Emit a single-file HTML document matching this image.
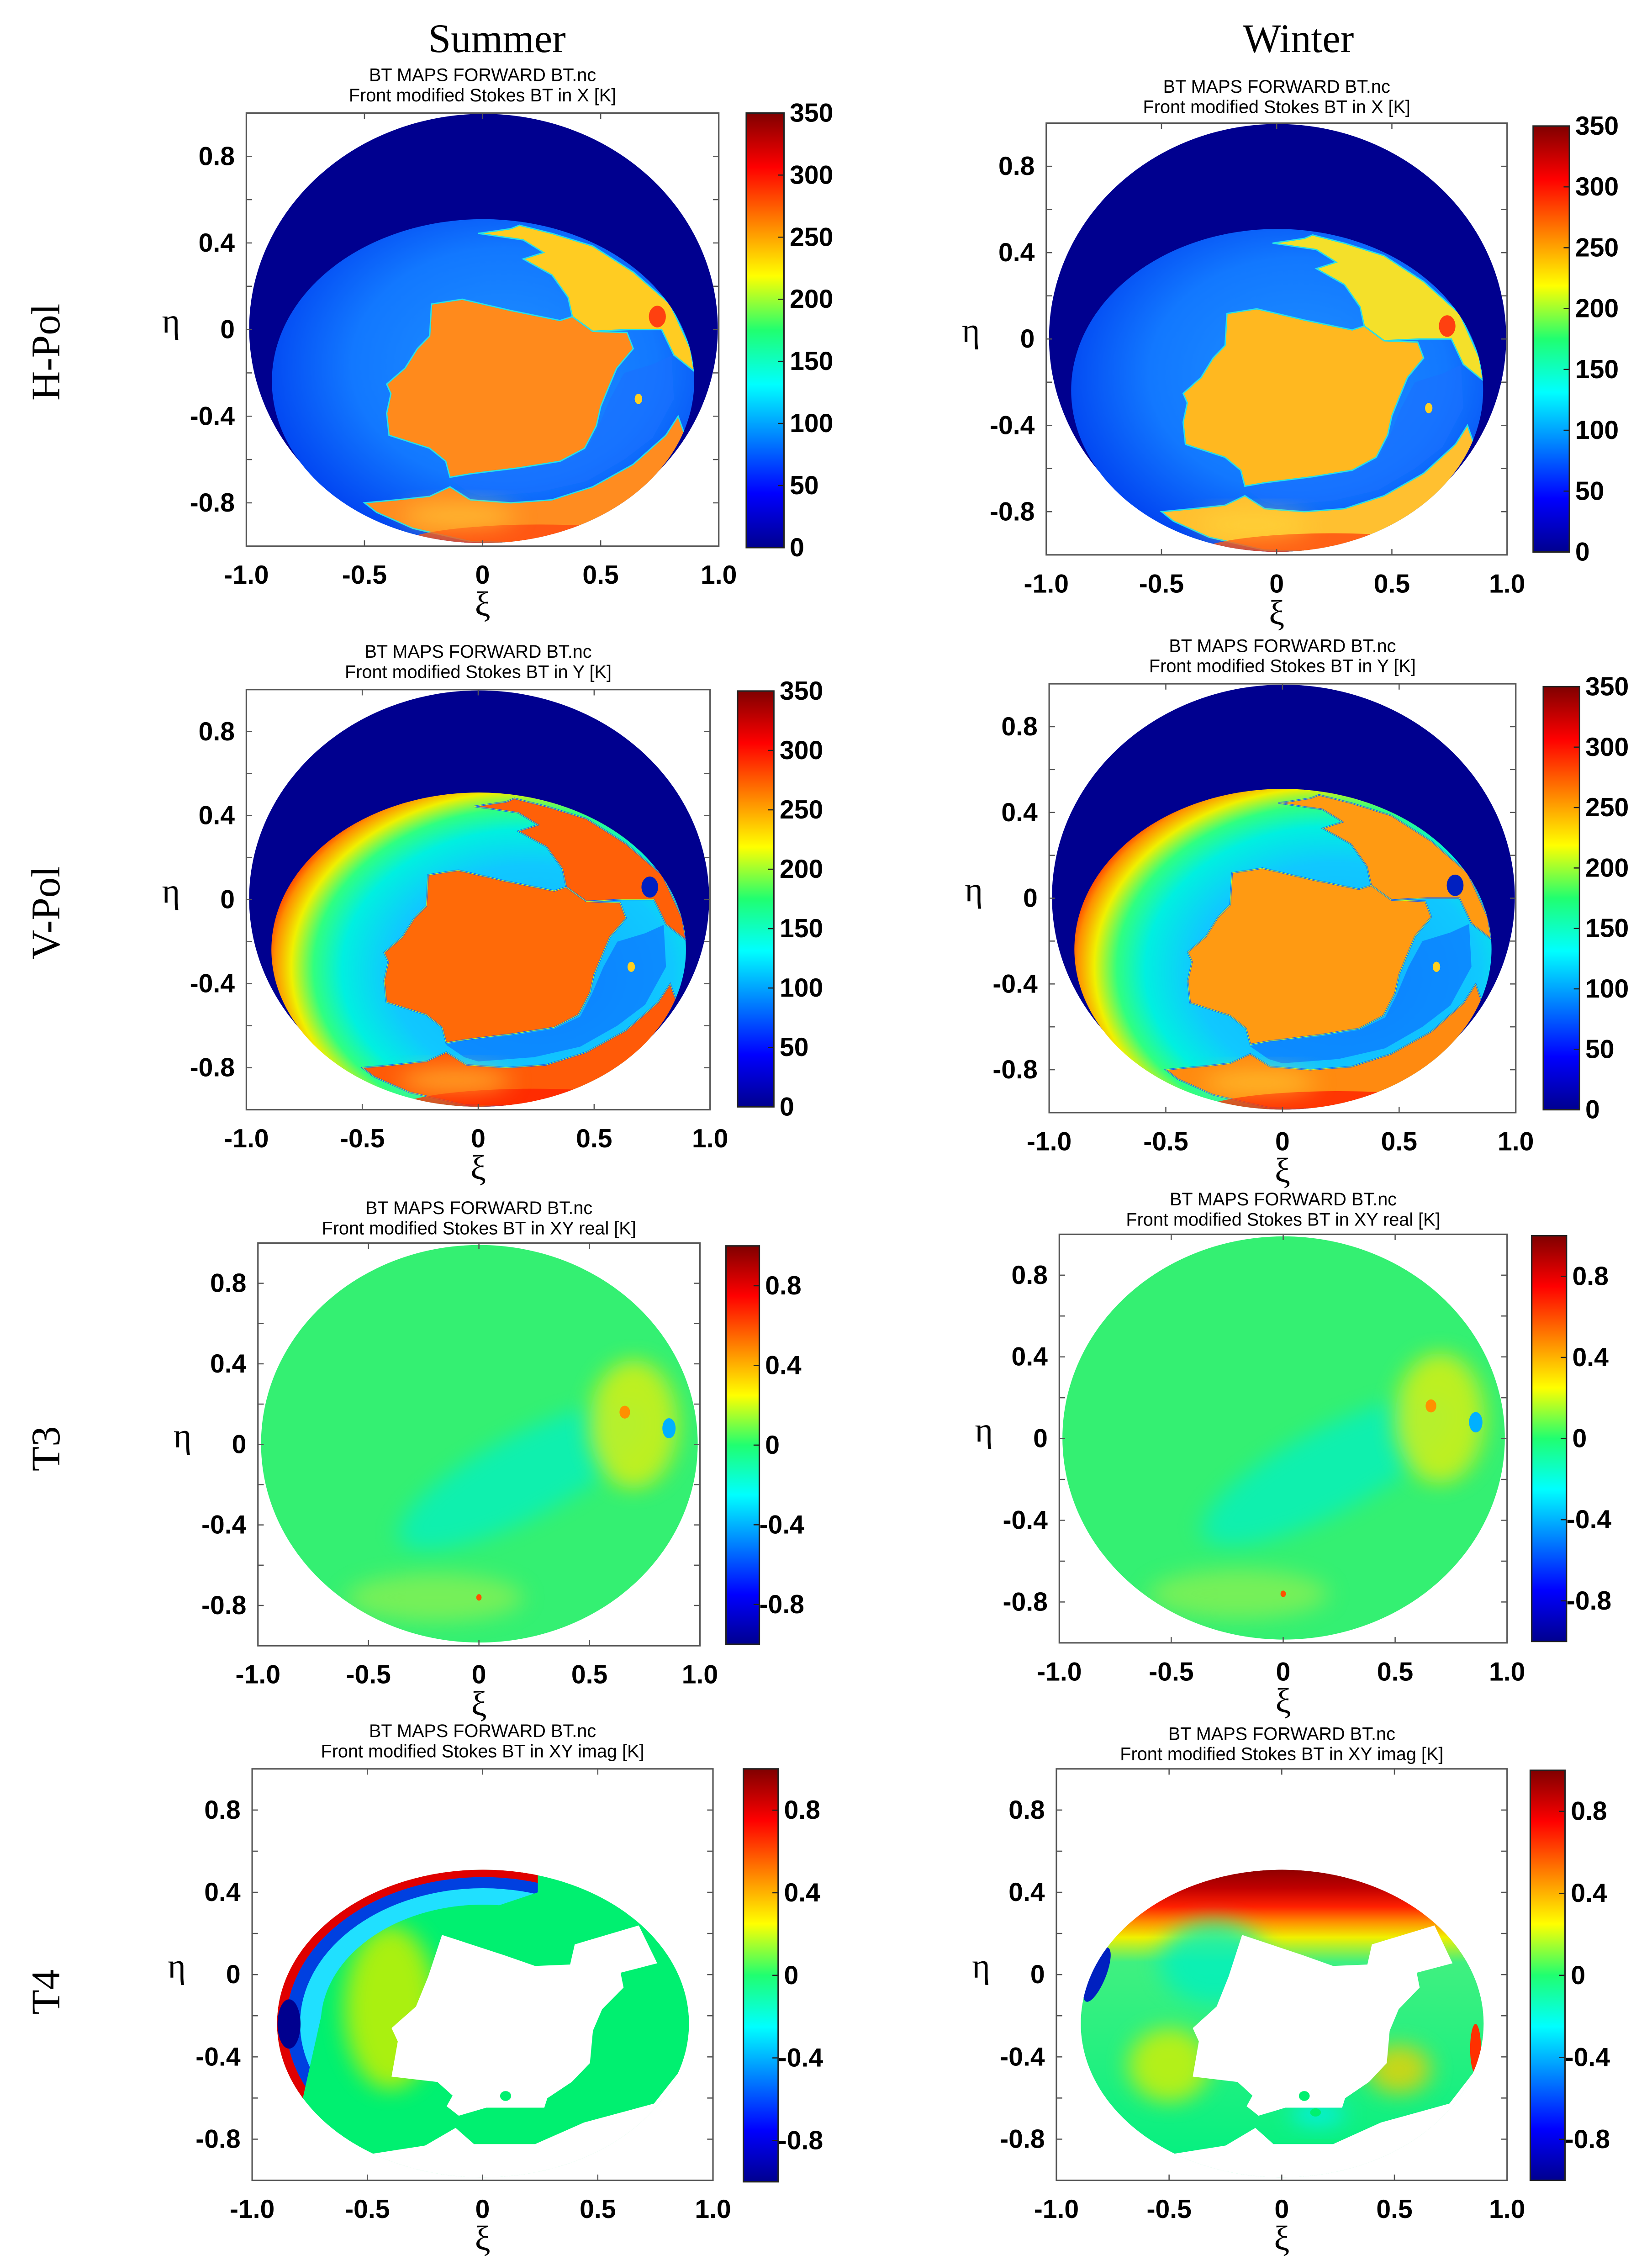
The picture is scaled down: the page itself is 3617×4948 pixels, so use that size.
<!DOCTYPE html>
<html><head><meta charset="utf-8">
<style>
html,body{margin:0;padding:0;background:#fff;}
svg{display:block;}
.tk{font-family:"Liberation Sans",Arial,sans-serif;font-weight:bold;font-size:18px;fill:#000;}
.ttl{font-family:"Liberation Sans",Arial,sans-serif;font-size:12.5px;fill:#000;}
.hdr{font-family:"Liberation Serif","DejaVu Serif",serif;font-size:28px;fill:#000;}
.gr{font-family:"Liberation Serif","DejaVu Serif",serif;font-size:24px;fill:#000;}
</style></head>
<body>
<svg id="fig" xmlns="http://www.w3.org/2000/svg" width="3617" height="4948" viewBox="0 0 1140 1560" preserveAspectRatio="none">
<defs>
<linearGradient id="jet" x1="0" y1="1" x2="0" y2="0">
<stop offset="0" stop-color="#00008f"/><stop offset="0.125" stop-color="#0000ff"/>
<stop offset="0.375" stop-color="#00ffff"/><stop offset="0.5" stop-color="#20ff70"/>
<stop offset="0.625" stop-color="#ffff00"/><stop offset="0.875" stop-color="#ff0000"/>
<stop offset="1" stop-color="#800000"/></linearGradient>
<radialGradient id="hsea" cx="0.55" cy="0.45" r="0.6">
<stop offset="0" stop-color="#1e90ff"/><stop offset="0.6" stop-color="#1278ff"/><stop offset="1" stop-color="#0040f0"/></radialGradient>
<radialGradient id="vsea" cx="0.6" cy="0.55" r="0.62" fx="0.66" fy="0.6">
<stop offset="0" stop-color="#10b0ff"/><stop offset="0.55" stop-color="#10c8ff"/>
<stop offset="0.72" stop-color="#00f0e0"/><stop offset="0.82" stop-color="#30ff80"/>
<stop offset="0.9" stop-color="#f0f000"/><stop offset="0.96" stop-color="#ff9000"/><stop offset="1" stop-color="#ff3000"/></radialGradient>
<linearGradient id="t4w" x1="0" y1="0" x2="0" y2="1">
<stop offset="0" stop-color="#900000"/><stop offset="0.06" stop-color="#c00000"/>
<stop offset="0.12" stop-color="#ff2000"/><stop offset="0.17" stop-color="#ff9000"/>
<stop offset="0.22" stop-color="#f0f000"/><stop offset="0.3" stop-color="#40f080"/><stop offset="1" stop-color="#00f080"/></linearGradient>
<filter id="bl" x="-50%" y="-50%" width="200%" height="200%"><feGaussianBlur stdDeviation="0.025"/></filter>
</defs>
<g id="root"></g>
</svg>
<script>
// ---- data ----
var colHeaders = ["Summer", "Winter"];
var rowLabels = ["H-Pol", "V-Pol", "T3", "T4"];
var xTickVals = [-1.0, -0.5, 0, 0.5, 1.0];
var xTickLabels = ["-1.0", "-0.5", "0", "0.5", "1.0"];
var yTickVals = [0.8, 0.4, 0, -0.4, -0.8];
var yTickLabels = ["0.8", "0.4", "0", "-0.4", "-0.8"];
var btTickVals = [0, 50, 100, 150, 200, 250, 300, 350];
var btRange = [0, 350];
var stTickVals = [-0.8, -0.4, 0, 0.4, 0.8];
var stTickLabels = ["-0.8", "-0.4", "0", "0.4", "0.8"];
var stRange = [-1, 1];
var titleLine1 = "BT MAPS FORWARD BT.nc";
var titleLine2 = ["Front modified Stokes BT in X [K]", "Front modified Stokes BT in Y [K]", "Front modified Stokes BT in XY real [K]", "Front modified Stokes BT in XY imag [K]"];

var P = [
 {r:0,c:0,x:170,y:78,w:326,h:299,cb:[515,78,26,300],t:52},
 {r:0,c:1,x:722,y:85,w:318,h:298,cb:[1058,87,25,294],t:60},
 {r:1,c:0,x:170,y:476,w:320,h:290,cb:[509,477,25,287],t:450},
 {r:1,c:1,x:724,y:472,w:322,h:296,cb:[1065,474,25,292],t:446},
 {r:2,c:0,x:178,y:858,w:305,h:278,cb:[501,860,23,275],t:834},
 {r:2,c:1,x:731,y:852,w:309,h:282,cb:[1057,853,24,280],t:828},
 {r:3,c:0,x:174,y:1221,w:318,h:284,cb:[513,1221,24,285],t:1195},
 {r:3,c:1,x:729,y:1221,w:311,h:284,cb:[1056,1222,24,283],t:1197}
];

var iberia=[[.392,.441],[.457,.430],[.560,.456],[.664,.479],[.690,.470],[.733,.504],[.806,.507],[.819,.544],[.784,.589],[.767,.633],[.750,.678],[.741,.722],[.716,.774],[.664,.804],[.578,.819],[.474,.833],[.431,.841],[.422,.804],[.388,.774],[.302,.744],[.297,.693],[.306,.648],[.297,.626],[.336,.589],[.362,.544],[.388,.515]];
var france=[[.578,.259],[.647,.278],[.733,.307],[.819,.367],[.897,.441],[.940,.544],[.948,.596],[.905,.559],[.879,.5],[.810,.5],[.733,.504],[.690,.470],[.681,.426],[.647,.374],[.586,.337],[.629,.322],[.586,.293],[.491,.278],[.560,.267]];
var africa=[[.25,.9],[.319,.893],[.388,.885],[.431,.863],[.474,.893],[.560,.9],[.647,.893],[.733,.863],[.819,.811],[.888,.744],[.914,.7],[.931,.752],[.888,.841],[.819,.915],[.733,.967],[.603,.993],[.474,.989],[.353,.959],[.276,.922]];
var medit=[[.43,.845],[.47,.835],[.58,.822],[.665,.807],[.72,.778],[.745,.725],[.77,.66],[.80,.60],[.86,.58],[.90,.56],[.905,.66],[.86,.75],[.80,.80],[.72,.85],[.62,.875],[.50,.885],[.47,.875]];
var t4hole=[[-0.176,0.193],[0.095,0.094],[0.228,0.042],[0.380,0.049],[0.400,0.147],[0.678,0.239],[0.758,0.055],[0.599,0.009],[0.612,-0.063],[0.519,-0.168],[0.479,-0.273],[0.466,-0.430],[0.387,-0.522],[0.281,-0.601],[0.268,-0.647],[0.016,-0.647],[-0.103,-0.686],[-0.156,-0.640],[-0.130,-0.588],[-0.196,-0.522],[-0.395,-0.496],[-0.368,-0.325],[-0.395,-0.260],[-0.289,-0.155],[-0.236,-0.010]];
var t4bottom=[[-1,-0.87],[-0.474,-0.870],[-0.249,-0.831],[-0.117,-0.745],[-0.037,-0.824],[0.228,-0.824],[0.44,-0.719],[0.744,-0.627],[0.864,-0.457],[1,-0.457],[1,-1],[-1,-1]];

var NS="http://www.w3.org/2000/svg";
var root=document.getElementById('root');
function el(tag,attrs,parent){var e=document.createElementNS(NS,tag);for(var k in attrs)e.setAttribute(k,attrs[k]);(parent||root).appendChild(e);return e;}
function path(pts){return "M"+pts.map(function(p){return p[0]+","+p[1];}).join("L")+"Z";}
function xe(pts){return pts.map(function(p){return [(p[0]+1)/2,(1-p[1])/2];});}
function txt(s,x,y,cls,anchor,parent){var t=el('text',{x:x,y:y,'class':cls,'text-anchor':anchor||'middle'},parent);t.textContent=s;return t;}

var defs=document.querySelector('defs');
var OUT={cx:.502,cy:.4975,rx:.496,ry:.4955};
var INN={cx:.501,cy:.619,rx:.447,ry:.374};
var T3E={cx:.501,cy:.4985,rx:.494,ry:.4935};

colHeaders.forEach(function(h,i){
  var t=txt(h,[343,896][i],36,'hdr');
  
  
});
var rowY=[243,630,1000,1375];
rowLabels.forEach(function(r,i){
  var t=el('text',{x:0,y:0,'class':'hdr','text-anchor':'middle',transform:'translate(41,'+rowY[i]+') rotate(-90)'});
  t.textContent=r;
  
  
});

P.forEach(function(p,idx){
  var season=p.c===0?'summer':'winter';
  var g=el('g',{});
  
  
  var cx=p.x+p.w/2;
  var t1=txt(titleLine1,cx,p.t+4,'ttl','middle',g);
  
  
  var t2=txt(titleLine2[p.r],cx,p.t+18,'ttl','middle',g);
  
  
  var cid='clip'+idx;
  var cp=el('clipPath',{id:cid},defs);
  el('ellipse',{cx:INN.cx,cy:INN.cy,rx:INN.rx,ry:INN.ry},cp);
  var m=el('g',{transform:'translate('+p.x+','+p.y+') scale('+p.w+','+p.h+')'},g);
  
  
  var win=p.c===1;
  if(p.r<2){
    el('ellipse',{cx:OUT.cx,cy:OUT.cy,rx:OUT.rx,ry:OUT.ry,fill:'#00008f'},m);
    el('ellipse',{cx:INN.cx,cy:INN.cy,rx:INN.rx,ry:INN.ry,fill:p.r===0?'url(#hsea)':'url(#vsea)'},m);
    var ig=el('g',{'clip-path':'url(#'+cid+')'},m);
    var land, fr, af, coast;
    if(p.r===0){ land=win?'#ffb820':'#ff8a1c'; fr=win?'#f4e02a':'#ffcc22'; af=win?'#ffc030':'#ff8c20'; coast='#30e8e0';
      el('path',{d:path(medit),fill:'#1a70ff',opacity:0.6},ig);}
    else { land=win?'#ff9a12':'#ff6a08'; fr=win?'#ff9a12':'#ff6008'; af=win?'#ff8a10':'#ff5a08'; coast='#c8ff20';
      el('path',{d:path(medit),fill:'#0a5cff',opacity:0.55},ig);}
    el('path',{d:path(africa),fill:af,stroke:p.r===1?'#0a5cff':'#20d8f0','stroke-width':3,'vector-effect':'non-scaling-stroke'},ig);
    el('path',{d:path(africa),fill:'none',stroke:coast,'stroke-width':1,'vector-effect':'non-scaling-stroke'},ig);
    el('ellipse',{cx:.62,cy:1.0,rx:.3,ry:.05,fill:p.r===1?'#ff2000':'#ff4a10',opacity:0.8},ig);
    el('ellipse',{cx:.45,cy:.93,rx:.12,ry:.03,fill:'#ffe040',opacity:0.5,filter:'url(#bl)'},ig);
    el('path',{d:path(france),fill:fr,stroke:p.r===1?'#0a5cff':'#20d8f0','stroke-width':3,'vector-effect':'non-scaling-stroke'},ig);
    el('path',{d:path(france),fill:'none',stroke:coast,'stroke-width':1,'vector-effect':'non-scaling-stroke'},ig);
    el('ellipse',{cx:.87,cy:.47,rx:.018,ry:.025,fill:p.r===1?'#0020c0':'#ff4010'},ig);
    el('path',{d:path(iberia),fill:land,stroke:p.r===1?'#0a5cff':'#20d8f0','stroke-width':3,'vector-effect':'non-scaling-stroke'},ig);
    el('path',{d:path(iberia),fill:'none',stroke:coast,'stroke-width':1.2,'vector-effect':'non-scaling-stroke'},ig);
    el('ellipse',{cx:.83,cy:.66,rx:.008,ry:.012,fill:'#ffd020'},ig);
  } else if(p.r===2){
    el('ellipse',{cx:T3E.cx,cy:T3E.cy,rx:T3E.rx,ry:T3E.ry,fill:'#34f072'},m);
    var c3='c3'+idx; var cc=el('clipPath',{id:c3},defs);
    el('ellipse',{cx:T3E.cx,cy:T3E.cy,rx:T3E.rx,ry:T3E.ry},cc);
    var tg=el('g',{'clip-path':'url(#'+c3+')'},m);
    el('ellipse',{cx:.6,cy:.58,rx:.32,ry:.1,fill:'#00f0c8',opacity:0.7,transform:'rotate(-30 .6 .58)',filter:'url(#bl)'},tg);
    el('ellipse',{cx:.85,cy:.45,rx:.1,ry:.16,fill:'#e0f010',opacity:0.8,filter:'url(#bl)'},tg);
    el('ellipse',{cx:.83,cy:.42,rx:.012,ry:.016,fill:'#ff9000'},tg);
    el('ellipse',{cx:.93,cy:.46,rx:.015,ry:.025,fill:'#00b0ff'},tg);
    el('ellipse',{cx:.4,cy:.88,rx:.2,ry:.06,fill:'#b8f040',opacity:0.5,filter:'url(#bl)'},tg);
    el('ellipse',{cx:.5,cy:.88,rx:.006,ry:.008,fill:'#ff5000'},tg);
  } else {
    var tg4=el('g',{'clip-path':'url(#'+cid+')'},m);
    if(!win){
      el('ellipse',{cx:INN.cx,cy:INN.cy,rx:INN.rx,ry:INN.ry,fill:'#00f070'},tg4);
      el('ellipse',{cx:.3,cy:.58,rx:.1,ry:.2,fill:'#c8f000',opacity:0.85,filter:'url(#bl)'},tg4);
      var lc='lc'+idx; var lcp=el('clipPath',{id:lc},defs);
      el('path',{d:path([[0,0],[.62,0],[.62,.3],[.3,.42],[.15,.6],[.1,.85],[0,.85]])},lcp);
      var bg=el('g',{'clip-path':'url(#'+lc+')'},tg4);
      el('ellipse',{cx:INN.cx,cy:INN.cy,rx:INN.rx-.07,ry:INN.ry-.06,fill:'none',stroke:'#20e0ff','stroke-width':.05},bg);
      el('ellipse',{cx:INN.cx,cy:INN.cy,rx:INN.rx-.035,ry:INN.ry-.03,fill:'none',stroke:'#0040e0','stroke-width':.03},bg);
      el('ellipse',{cx:INN.cx,cy:INN.cy,rx:INN.rx-.01,ry:INN.ry-.008,fill:'none',stroke:'#e00000','stroke-width':.02},bg);
      el('ellipse',{cx:.08,cy:.62,rx:.025,ry:.06,fill:'#00008f'},tg4);
    } else {
      el('ellipse',{cx:INN.cx,cy:INN.cy,rx:INN.rx,ry:INN.ry,fill:'url(#t4w)'},tg4);
      el('ellipse',{cx:.35,cy:.47,rx:.12,ry:.1,fill:'#00f0c0',opacity:0.8,filter:'url(#bl)'},tg4);
      el('ellipse',{cx:.25,cy:.72,rx:.09,ry:.09,fill:'#d8f000',opacity:0.8,filter:'url(#bl)'},tg4);
      el('ellipse',{cx:.76,cy:.73,rx:.07,ry:.06,fill:'#f0d000',opacity:0.8,filter:'url(#bl)'},tg4);
      el('ellipse',{cx:.58,cy:.84,rx:.06,ry:.03,fill:'#00f0f0',opacity:0.8,filter:'url(#bl)'},tg4);
      el('ellipse',{cx:.09,cy:.5,rx:.02,ry:.07,fill:'#0020c0',transform:'rotate(20 .09 .5)'},tg4);
      el('ellipse',{cx:.93,cy:.68,rx:.012,ry:.06,fill:'#ff3000'},tg4);
    }
    el('path',{d:path(xe(t4hole)),fill:'#fff'},tg4);
    el('path',{d:path(xe(t4bottom)),fill:'#fff'},tg4);
    el('ellipse',{cx:.55,cy:.795,rx:.012,ry:.012,fill:'#00f070'},tg4);
    el('ellipse',{cx:.575,cy:.835,rx:.012,ry:.01,fill:'#00f070'},tg4);
  }
  var fr2=el('rect',{x:p.x,y:p.y,width:p.w,height:p.h,fill:'none',stroke:'#555','stroke-width':1},g);
  
  
  function X(v){return p.x+(v+1)/2*p.w;}
  function Y(v){return p.y+(1-v)/2*p.h;}
  for(var k=-4;k<=4;k++){var yy=Y(k*0.2);
    el('line',{x1:p.x,y1:yy,x2:p.x+4,y2:yy,stroke:'#555','stroke-width':.8},g);
    el('line',{x1:p.x+p.w,y1:yy,x2:p.x+p.w-4,y2:yy,stroke:'#555','stroke-width':.8},g);}
  xTickVals.forEach(function(v,i){
    el('line',{x1:X(v),y1:p.y+p.h,x2:X(v),y2:p.y+p.h-4,stroke:'#555','stroke-width':.8},g);
    el('line',{x1:X(v),y1:p.y,x2:X(v),y2:p.y+4,stroke:'#555','stroke-width':.8},g);
    var t=txt(xTickLabels[i],X(v),p.y+p.h+26,'tk','middle',g);
    
    
  });
  yTickVals.forEach(function(v,i){
    var t=txt(yTickLabels[i],p.x-8,Y(v)+6,'tk','end',g);
    
    
  });
  var xl=txt('ξ',X(0),p.y+p.h+48,'gr','middle',g);
  
  
  var yl=txt('η',p.x-52,Y(0)+2,'gr','middle',g);
  
  
  var cb=p.cb;
  var cbr=el('rect',{x:cb[0],y:cb[1],width:cb[2],height:cb[3],fill:'url(#jet)',stroke:'#222','stroke-width':1},g);
  
  
  var vals,labs,rng;
  if(p.r<2){vals=btTickVals;labs=btTickVals.map(String);rng=btRange;}else{vals=stTickVals;labs=stTickLabels;rng=stRange;}
  vals.forEach(function(v,i){
    var yy=cb[1]+cb[3]*(1-(v-rng[0])/(rng[1]-rng[0]));
    el('line',{x1:cb[0]+cb[2]-4,y1:yy,x2:cb[0]+cb[2],y2:yy,stroke:'#222','stroke-width':.8},g);
    var t=txt(labs[i],cb[0]+cb[2]+(labs[i].charAt(0)==='-'?0:4),yy+6,'tk','start',g);
    
    
  });
});
</script>
</body></html>
